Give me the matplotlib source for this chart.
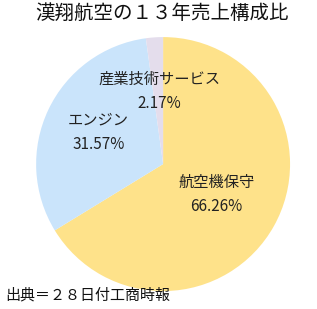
import matplotlib
matplotlib.use('Agg')
import matplotlib.pyplot as plt

plt.rcParams['font.family'] = ['Noto Sans CJK JP', 'DejaVu Sans']

labels = ['航空機保守', 'エンジン', '産業技術サービス']
shares = [66.26, 31.57, 2.17]
colors = ['#FEE28A', '#CAE4FB', '#E4DDEC']
# label spots inside the pie (unit circle coords)
label_pos = [(0.42, -0.24), (-0.51, 0.25), (-0.03, 0.57)]

fig = plt.figure(figsize=(3.17, 3.09), dpi=100)
fig.patch.set_facecolor('white')

ax = fig.add_axes([0.114, 0.058, 0.801, 0.822])
ax.pie(shares, colors=colors, startangle=90, counterclock=False,
       wedgeprops=dict(linewidth=0))
ax.set_xlim(-1, 1)
ax.set_ylim(-1, 1)
ax.set_aspect('auto')

for name, val, (x, y) in zip(labels, shares, label_pos):
    ax.text(x, y, f'{name}\n{val:.2f}%', ha='center', va='center',
            fontsize=11, linespacing=1.55, color='#222222')

fig.text(0.512, 0.955, '漢翔航空の１３年売上構成比', ha='center', va='center',
         fontsize=14, color='#111111')
fig.text(0.016, 0.045, '出典＝２８日付工商時報', ha='left', va='center',
         fontsize=10.8, color='#111111')

fig.savefig('out.png', dpi=100)
